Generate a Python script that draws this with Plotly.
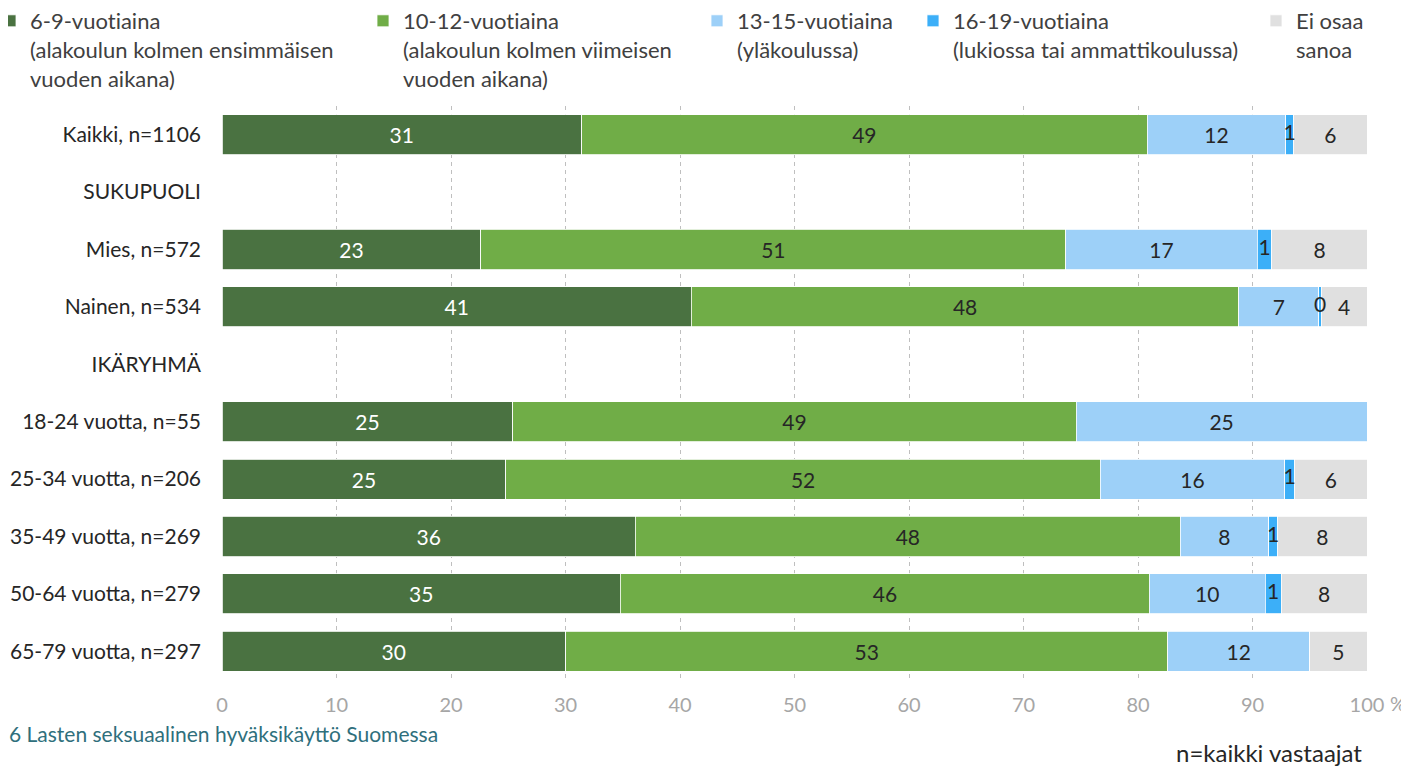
import plotly.graph_objects as go

# ── Data ──────────────────────────────────────────────────────────────────────
categories = [
    "Kaikki, n=1106", "SUKUPUOLI", "Mies, n=572", "Nainen, n=534", "IKÄRYHMÄ",
    "18-24 vuotta, n=55", "25-34 vuotta, n=206", "35-49 vuotta, n=269",
    "50-64 vuotta, n=279", "65-79 vuotta, n=297",
]
age_6_9   = [31.4, None, 22.6, 41.0, None, 25.4, 24.8, 36.1, 34.8, 30.0]
age_10_12 = [49.4, None, 51.1, 47.8, None, 49.2, 51.9, 47.6, 46.2, 52.6]
age_13_15 = [12.1, None, 16.7, 7.0, None, 25.4, 16.1, 7.7, 10.1, 12.4]
age_16_19 = [0.7, None, 1.3, 0.2, None, 0, 0.9, 0.8, 1.4, 0]
dont_know = [6.4, None, 8.3, 4.0, None, 0, 6.3, 7.8, 7.5, 5.0]

# \u200c keeps Lato from joining "ti" into a ligature
series_names = [
    "6-9-vuot\u200ciaina<br>(alakoulun kolmen ensimmäisen<br>vuoden aikana)",
    "10-12-vuot\u200ciaina<br>(alakoulun kolmen viimeisen<br>vuoden aikana)",
    "13-15-vuot\u200ciaina<br>(yläkoulussa)",
    "16-19-vuot\u200ciaina<br>(lukiossa tai ammat\u200ctikoulussa)",
    "Ei osaa<br>sanoa",
]
x_ticks = [0, 10, 20, 30, 40, 50, 60, 70, 80, 90, 100]

# ── Style ─────────────────────────────────────────────────────────────────────
_FONT   = "Lato, Open Sans, sans-serif"
_COLORS = ["#4a7241", "#70ad47", "#9dd0f8", "#3caff8", "#e0e0e0"]
_TXTCOL = ["#ffffff", "#262626", "#262626", "#262626", "#262626"]
_OFF    = 8                              # page body margin
_LEG_X  = [-10, 363, 697, 913, 1256]    # legend left edges, screen px
_PL, _PW = 222 - _OFF, 1145
_PT, _PH = 106 - _OFF, 574


def _py(screen_y):
    """screen pixel y -> paper y"""
    return 1 - (screen_y - _OFF - _PT) / _PH


fig = go.Figure()
all_series = [age_6_9, age_10_12, age_13_15, age_16_19, dont_know]
for i, (name, vals) in enumerate(zip(series_names, all_series)):
    leg = "legend" if i == 0 else f"legend{i + 1}"
    small = i == 3   # thin segments: label drawn on top in a text trace
    fig.add_trace(go.Bar(
        x=vals,
        y=categories,
        name=name,
        orientation="h",
        marker=dict(color=_COLORS[i], line=dict(color="white", width=0.8)),
        text=None if small else [f"{v:.0f}" if v else "" for v in [v or 0 for v in vals]],
        textposition="none" if small else "inside",
        insidetextanchor="middle",
        textangle=0,
        textfont=dict(color=_TXTCOL[i], size=21, family=_FONT),
        legend=leg,
        hovertemplate="%{y}: %{x}<extra></extra>",
    ))

# labels for the 16-19 segment, centred on the stacked segment
base = [(a or 0) + (b or 0) + (c or 0) for a, b, c in zip(age_6_9, age_10_12, age_13_15)]
mids, labs, cats = [], [], []
for cat, b0, v in zip(categories, base, age_16_19):
    if v:
        mids.append(b0 + v / 2)
        labs.append(f"{v:.0f}")
        cats.append(cat)
fig.add_trace(go.Scatter(
    x=mids, y=cats, mode="text", text=labs,
    textfont=dict(color="#262626", size=21, family=_FONT),
    showlegend=False, hoverinfo="skip",
))

legends = {}
for i in range(5):
    key = "legend" if i == 0 else f"legend{i + 1}"
    legends[key] = dict(
        x=(_LEG_X[i] - _OFF - _PL) / _PW, xanchor="left",
        y=_py(0), yanchor="top",
        valign="top",
        font=dict(size=22, color="#404040", family=_FONT),
        bgcolor="rgba(0,0,0,0)",
        itemclick=False, itemdoubleclick=False,
    )

fig.update_layout(
    barmode="stack",
    bargap=0.3,
    width=1409, height=766,
    paper_bgcolor="white",
    plot_bgcolor="white",
    font=dict(family=_FONT, color="#262626", size=21),
    margin=dict(l=_PL, r=1409 - _PL - _PW, t=_PT, b=766 - _PT - _PH,
                autoexpand=False),
    showlegend=True,
    uniformtext=dict(minsize=21, mode="show"),
    xaxis=dict(
        range=[0, 100],
        tickvals=x_ticks,
        showgrid=True,
        gridcolor="#bfbfbf",
        griddash="4px,4px",
        gridwidth=1,
        zeroline=False,
        showline=False,
        tickfont=dict(size=20, color="#a6a6a6"),
        ticklabelstandoff=11,
    ),
    yaxis=dict(
        categoryorder="array",
        categoryarray=categories,
        autorange="reversed",
        showgrid=False,
        zeroline=False,
        showline=False,
        tickfont=dict(size=21, color="#262626"),
        ticklabelstandoff=20,
    ),
    **legends,
)

fig.add_annotation(
    text="%", x=1.0, y=_py(703), xref="paper", yref="paper",
    xanchor="center", yanchor="middle",
    xshift=31, showarrow=False,
    font=dict(size=20, color="#a6a6a6"),
)
fig.add_annotation(
    text="6 Lasten seksuaalinen hyväksikäyttö Suomessa",
    x=-_PL / _PW - 0.001, y=_py(734), xref="paper", yref="paper",
    showarrow=False, xanchor="left", yanchor="middle",
    font=dict(size=21, color="#2f6f7c"),
)
fig.add_annotation(
    text="n=kaikki vastaajat",
    x=1, y=_py(752), xref="paper", yref="paper",
    showarrow=False, xanchor="right", yanchor="middle", xshift=-3,
    font=dict(size=24, color="#262626"),
)

fig.write_html("out.html")
